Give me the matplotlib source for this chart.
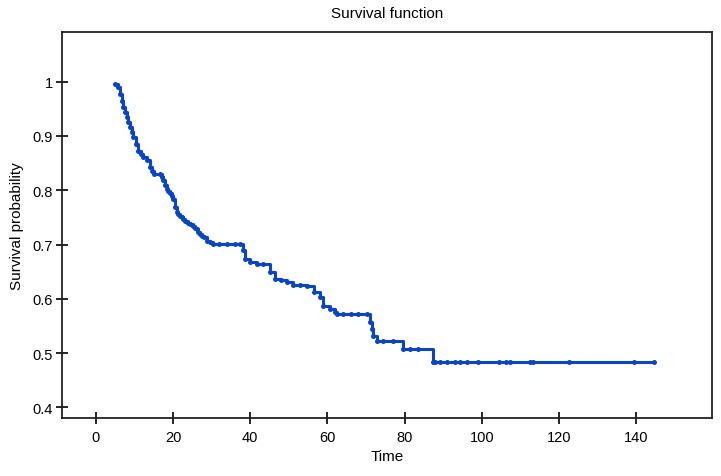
import matplotlib
matplotlib.use("Agg")
import matplotlib.pyplot as plt

# Kaplan-Meier style step curve
time = [5.0, 5.8, 6.2, 6.7, 7.1, 7.6, 8.0, 8.4, 8.8, 9.3, 9.7, 10.3, 11.0,
        11.6, 12.3, 13.2, 14.0, 14.5, 15.0, 16.6, 17.1, 17.5, 17.9, 18.3,
        18.8, 19.2, 19.6, 20.0, 20.5, 20.9, 21.3, 21.8, 22.2, 22.6, 23.2,
        23.9, 24.5, 25.2, 25.6, 26.1, 26.5, 27.0, 27.5, 28.0, 28.7, 29.5,
        30.4, 32.0, 34.0, 36.0, 37.3, 38.2, 38.6, 40.0, 41.7, 43.4, 45.1,
        46.4, 47.9, 49.4, 51.0, 52.8, 54.6, 56.4, 58.1, 58.9, 60.7, 62.0,
        62.4, 64.0, 66.0, 68.0, 70.2, 71.0, 71.5, 71.9, 72.8, 74.5, 77.0,
        79.7, 81.4, 83.6, 87.5, 87.9, 89.2, 90.9, 93.1, 94.4, 96.1, 99.1,
        104.5, 106.4, 107.3, 112.4, 113.4, 122.7, 139.6, 144.6]
survival = [0.995, 0.990, 0.977, 0.965, 0.953, 0.944, 0.934, 0.925, 0.916,
            0.907, 0.898, 0.885, 0.873, 0.867, 0.862, 0.855, 0.842, 0.836,
            0.830, 0.830, 0.824, 0.818, 0.810, 0.802, 0.798, 0.795, 0.790,
            0.784, 0.770, 0.760, 0.756, 0.752, 0.750, 0.747, 0.744, 0.740,
            0.738, 0.735, 0.731, 0.728, 0.724, 0.720, 0.716, 0.713, 0.707,
            0.704, 0.701, 0.701, 0.701, 0.701, 0.701, 0.690, 0.673, 0.668,
            0.664, 0.664, 0.649, 0.637, 0.634, 0.631, 0.626, 0.626, 0.624,
            0.612, 0.603, 0.587, 0.581, 0.575, 0.572, 0.572, 0.572, 0.572,
            0.572, 0.557, 0.545, 0.532, 0.522, 0.522, 0.522, 0.508, 0.508,
            0.508, 0.483, 0.483, 0.483, 0.483, 0.483, 0.483, 0.483, 0.483,
            0.483, 0.483, 0.483, 0.483, 0.483, 0.483, 0.483, 0.483]

x_ticks = [0, 20, 40, 60, 80, 100, 120, 140]
y_ticks = [0.4, 0.5, 0.6, 0.7, 0.8, 0.9, 1.0]
y_labels = ["0.4", "0.5", "0.6", "0.7", "0.8", "0.9", "1"]


def main():
    plt.rcParams["font.family"] = ["Liberation Sans Narrow", "Liberation Sans", "DejaVu Sans"]

    fig = plt.figure(figsize=(7.21, 4.77), dpi=100)
    ax = fig.add_axes([0.086, 0.122, 0.9015, 0.809])

    ax.plot(time, survival, drawstyle="steps-post", color="#0a46c4",
            lw=2.2, marker="o", markersize=3.6, markeredgewidth=0)

    ax.set_xlim(-8.8, 159.7)
    ax.set_ylim(0.381, 1.0915)
    ax.set_xticks(x_ticks)
    ax.set_yticks(y_ticks)
    ax.set_yticklabels(y_labels)

    ax.tick_params(direction="inout", length=9, width=1.2, labelsize=10.5,
                   colors="black", pad=2)
    ax.tick_params(axis="x", pad=4)
    for s in ax.spines.values():
        s.set_linewidth(1.3)
        s.set_color("#222222")

    ax.set_title("Survival function", fontsize=11, pad=11)
    ax.set_xlabel("Time", fontsize=11, labelpad=4)
    ax.set_ylabel("Survival probability", fontsize=11, labelpad=6)

    fig.savefig("out.png", dpi=100)


if __name__ == "__main__":
    main()
